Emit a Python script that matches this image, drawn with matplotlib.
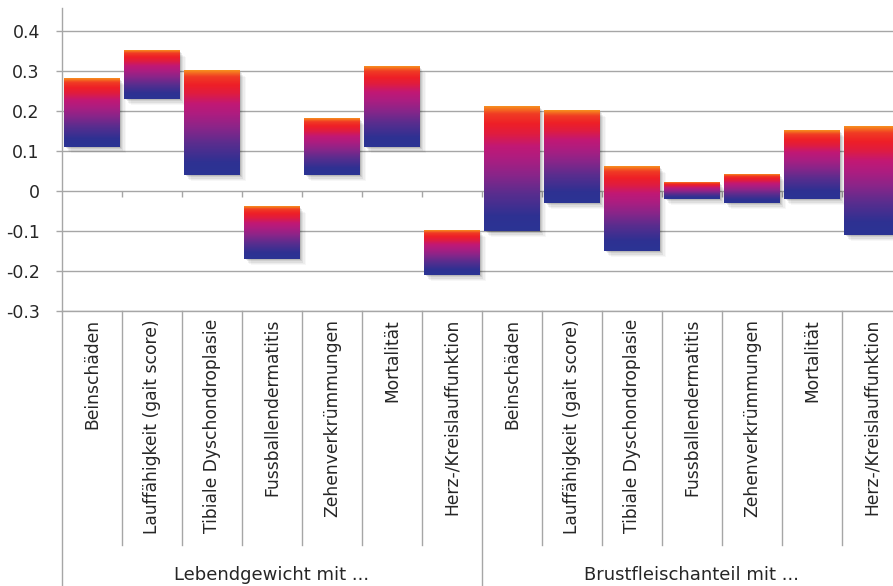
import numpy as np
import matplotlib.pyplot as plt
from matplotlib.colors import LinearSegmentedColormap
from matplotlib.patches import Rectangle
import matplotlib.transforms as mtransforms

# data
kategorien = ['Beinschäden', 'Lauffähigkeit (gait score)', 'Tibiale Dyschondroplasie',
              'Fussballendermatitis', 'Zehenverkrümmungen', 'Mortalität',
              'Herz-/Kreislauffunktion'] * 2
gruppen = ['Lebendgewicht mit ...', 'Brustfleischanteil mit ...']
unten = [0.11, 0.23, 0.04, -0.17, 0.04, 0.11, -0.21,
         -0.10, -0.03, -0.15, -0.02, -0.03, -0.02, -0.11]
oben = [0.28, 0.35, 0.30, -0.04, 0.18, 0.31, -0.10,
        0.21, 0.20, 0.06, 0.02, 0.04, 0.15, 0.16]
yticks = [-0.3, -0.2, -0.1, 0, 0.1, 0.2, 0.3, 0.4]
ytick_labels = ['-0.3', '-0.2', '-0.1', '0', '0.1', '0.2', '0.3', '0.4']

W, H = 893, 586
fig = plt.figure(figsize=(W/100, H/100), dpi=100)
ax = fig.add_axes([62/W, (H-311)/H, 1 - 62/W, (311-8)/H])

# gradient: blue (bottom) -> purple -> magenta -> red -> orange (top)
cmap = LinearSegmentedColormap.from_list('grad', [
    (0.0, '#2b3494'), (0.12, '#2e3192'), (0.30, '#5a2d8e'), (0.45, '#8a2589'),
    (0.58, '#ad1d80'), (0.68, '#c21874'), (0.78, '#e01c3f'), (0.86, '#ee1f27'),
    (0.94, '#f03c24'), (1.0, '#f7901e')])
grad = np.linspace(0, 1, 256).reshape(-1, 1)

bw = 0.92
n = len(kategorien)
for i in range(n):
    x0 = i - bw/2
    h = oben[i] - unten[i]
    # soft drop shadow to the lower right
    for k, a in zip(range(1, 6), [0.10, 0.08, 0.06, 0.04, 0.03]):
        off = mtransforms.offset_copy(ax.transData, fig=fig, x=k*0.9, y=-k*0.9, units='points')
        ax.add_patch(Rectangle((x0, unten[i]), bw, h, facecolor='black', alpha=a,
                               edgecolor='none', transform=off, zorder=2))
    ax.imshow(grad, extent=[x0, x0 + bw, unten[i], oben[i]], origin='lower',
              aspect='auto', cmap=cmap, zorder=3, interpolation='bicubic')

ax.set_xlim(-0.5, 13.35)
ax.set_ylim(-0.3, 0.457)
ax.set_yticks(yticks)
ax.set_yticklabels(ytick_labels)
ax.set_xticks([])
ax.tick_params(axis='y', length=4.5, width=1, color='#a6a6a6', pad=11.5,
               labelsize=12.5, labelcolor='#262626')
ax.grid(axis='y', color='#a6a6a6', linewidth=1)
ax.set_axisbelow(True)
for s in ['top', 'right']:
    ax.spines[s].set_visible(False)
for s in ['left', 'bottom']:
    ax.spines[s].set_color('#a6a6a6')
    ax.spines[s].set_linewidth(1)

# small tick marks on the zero line
ax.vlines(np.arange(0.5, n, 1), -0.016, 0, color='#a6a6a6', linewidth=1, zorder=1)

# category labels and separators below the plot
trans = mtransforms.blended_transform_factory(ax.transData, fig.transFigure)
y_axis = (H-311)/H
y_sep = (H-545)/H
for i, lab in enumerate(kategorien):
    ax.text(i, (H-319)/H, lab, transform=trans, rotation=90, ha='center', va='top',
            fontsize=12.3, color='#262626', family='DejaVu Sans')
for b in np.arange(0.5, n, 1):
    bottom = 0 if b == 6.5 else y_sep
    ax.plot([b, b], [bottom, y_axis], transform=trans, color='#a6a6a6',
            linewidth=1, clip_on=False)
ax.plot([-0.5, -0.5], [0, y_axis], transform=trans, color='#a6a6a6',
        linewidth=1, clip_on=False)

for g, lab in enumerate(gruppen):
    ax.text(3 + 7*g, (H-575)/H, lab, transform=trans, ha='center', va='center',
            fontsize=13, color='#262626',
            family=['Liberation Sans Narrow', 'DejaVu Sans'])

fig.savefig('out.png', dpi=100)
